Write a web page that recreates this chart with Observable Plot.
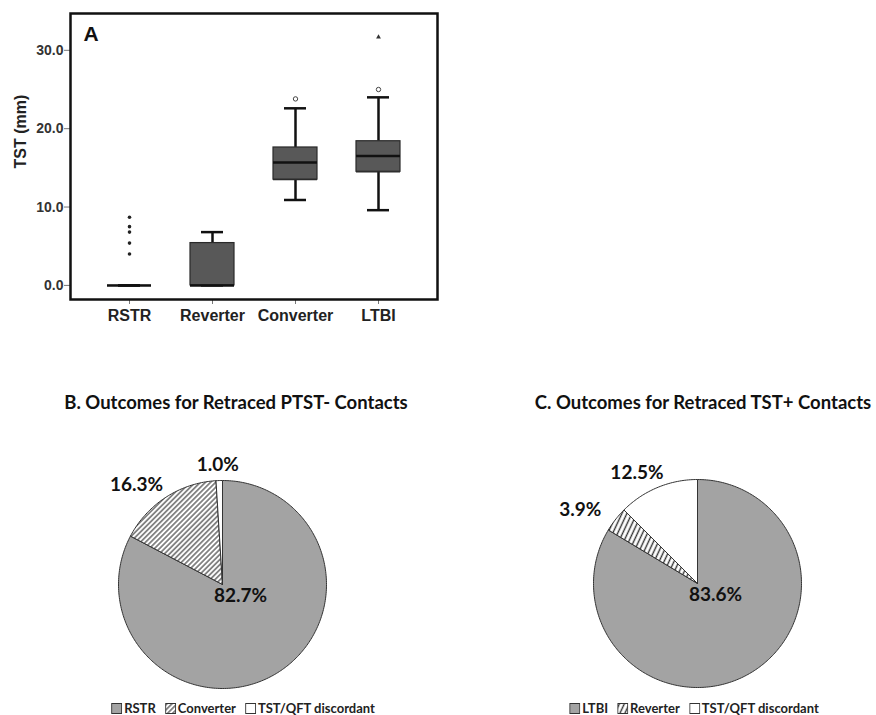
<!DOCTYPE html>
<html><head><meta charset="utf-8">
<script src="https://cdn.jsdelivr.net/npm/d3@7"></script>
<script src="https://cdn.jsdelivr.net/npm/@observablehq/plot@0.6"></script>
<style>
body{margin:0;background:#fff;}
#page{position:relative;width:876px;height:715px;overflow:hidden;font-family:Lato,"Open Sans",sans-serif;}
.abs{position:absolute;}
.title{font-weight:700;font-size:18.5px;color:#111;white-space:nowrap;transform:translate(-50%,-50%);}
.legend{font-size:13px;font-weight:700;color:#222;display:flex;align-items:center;white-space:nowrap;transform:translate(-50%,-50%);}
.legend .item{display:inline-flex;align-items:center;margin-right:9px;}
.legend .item:last-child{margin-right:0;}
.legend svg{margin-right:2px;}
</style></head>
<body><div id="page"></div>
<script>
// ---------- Panel A data (box plot summaries, TST mm) ----------
const boxCats = ["RSTR", "Reverter", "Converter", "LTBI"];
const q1 = [0, 0, 13.5, 14.5];
const median = [0, 0, 15.7, 16.5];
const q3 = [0, 5.4, 17.6, 18.4];
const whiskLo = [0, 0, 10.9, 9.6];
const whiskHi = [0, 6.8, 22.6, 24.0];
const outlierCat = ["RSTR", "RSTR", "RSTR", "RSTR", "RSTR", "Converter", "LTBI", "LTBI"];
const outlierVal = [8.7, 7.5, 6.8, 5.4, 4.0, 23.8, 25.0, 31.7];
const outlierKind = ["dot", "dot", "dot", "dot", "dot", "circle", "circle", "star"];
const yTicks = [0, 10, 20, 30];

// ---------- Panel B / C data (percent shares) ----------
const titleB = "B. Outcomes for Retraced PTST- Contacts";
const catsB = ["RSTR", "Converter", "TST/QFT discordant"];
const sharesB = [82.7, 16.3, 1.0];
const titleC = "C. Outcomes for Retraced TST+ Contacts";
const catsC = ["LTBI", "Reverter", "TST/QFT discordant"];
const sharesC = [83.6, 3.9, 12.5];

const page = document.getElementById("page");

// ---------- Panel A ----------
const boxTable = boxCats.map((c, i) => ({cat: c, q1: q1[i], med: median[i], q3: q3[i], lo: whiskLo[i], hi: whiskHi[i]}));
const outTable = outlierCat.map((c, i) => ({cat: c, v: outlierVal[i], kind: outlierKind[i]}));

const boxPlot = Plot.plot({
  width: 460, height: 340,
  marginLeft: 70, marginTop: 13, marginRight: 23, marginBottom: 41,
  style: {fontFamily: "'Liberation Sans', Arial, sans-serif", fontWeight: "bold", fontSize: "14px", color: "#222", background: "transparent"},
  x: {domain: boxCats, paddingInner: 0.47, paddingOuter: 0.44},
  y: {domain: [-1.8, 34.7]},
  marks: [
    Plot.ruleX(boxTable, {x: "cat", y1: "lo", y2: "q1", stroke: "#111", strokeWidth: 2.5}),
    Plot.ruleX(boxTable, {x: "cat", y1: "q3", y2: "hi", stroke: "#111", strokeWidth: 2.5}),
    Plot.tickY(boxTable, {x: "cat", y: "lo", stroke: "#111", strokeWidth: 2.5, insetLeft: 11, insetRight: 11}),
    Plot.tickY(boxTable, {x: "cat", y: "hi", stroke: "#111", strokeWidth: 2.5, insetLeft: 11, insetRight: 11}),
    Plot.barY(boxTable, {x: "cat", y1: "q1", y2: "q3", fill: "#585858", stroke: "#2a2a2a", strokeWidth: 1.2}),
    Plot.tickY(boxTable, {x: "cat", y: "q1", stroke: "#2a2a2a", strokeWidth: 1.2}),
    Plot.tickY(boxTable, {x: "cat", y: "med", stroke: "#111", strokeWidth: 2.5}),
    Plot.dot(outTable.filter(d => d.kind === "dot"), {x: "cat", y: "v", r: 1.8, fill: "#222", stroke: "none"}),
    Plot.dot(outTable.filter(d => d.kind === "circle"), {x: "cat", y: "v", r: 2.2, fill: "white", stroke: "#444", strokeWidth: 1}),
    Plot.dot(outTable.filter(d => d.kind === "star"), {x: "cat", y: "v", r: 1.8, symbol: "triangle", fill: "#333", stroke: "none"}),
    Plot.axisY({ticks: yTicks, tickFormat: d3.format(".1f"), tickSize: 6, tickPadding: 1, fontSize: 14, fontWeight: "bold", fill: "#333", stroke: "#777", label: null}),
    Plot.axisX({tickSize: 5, tickPadding: 5, fontSize: 16, fontWeight: "bold", fill: "#222", stroke: "#777", label: null}),
    Plot.text(["TST (mm)"], {frameAnchor: "left", rotate: -90, dx: -50, dy: 12, fontSize: 16, fontWeight: "bold", fill: "#222"}),
    Plot.text(["A"], {frameAnchor: "top-left", dx: 13, dy: 13, lineAnchor: "top", textAnchor: "start", fontSize: 21, fontWeight: "bold", fill: "#111"}),
    Plot.frame({stroke: "#111", strokeWidth: 2.5})
  ]
});
boxPlot.classList.add("abs");
boxPlot.style.left = "0px"; boxPlot.style.top = "0px";
page.appendChild(boxPlot);

// ---------- Pies ----------
function pieGeometry(cats, shares) {
  const total = d3.sum(shares);
  let acc = 0;
  const pts = [], labels = [];
  cats.forEach((c, i) => {
    const a0 = acc / total * 2 * Math.PI;
    acc += shares[i];
    const a1 = acc / total * 2 * Math.PI;
    const n = Math.max(2, Math.ceil((a1 - a0) / (Math.PI / 180)));
    pts.push({cat: c, x: 0, y: 0});
    for (let k = 0; k <= n; k++) {
      const a = a0 + (a1 - a0) * k / n;
      pts.push({cat: c, x: Math.sin(a), y: Math.cos(a)});
    }
    pts.push({cat: c, x: 0, y: 0});
    labels.push({cat: c, share: shares[i], mid: (a0 + a1) / 2});
  });
  return {pts, labels};
}

function addPattern(svg, id, angle, spacing, width) {
  const defs = d3.select(svg).insert("defs", ":first-child");
  const p = defs.append("pattern").attr("id", id).attr("patternUnits", "userSpaceOnUse")
    .attr("width", spacing).attr("height", spacing).attr("patternTransform", `rotate(${angle})`);
  p.append("rect").attr("width", spacing).attr("height", spacing).attr("fill", "white");
  p.append("line").attr("x1", spacing / 2).attr("y1", 0).attr("x2", spacing / 2).attr("y2", spacing)
    .attr("stroke", "#333").attr("stroke-width", width);
}

function drawPie(cats, shares, fills, patId, angle, spacing, pw, cx, cy, title, titleX, legendX) {
  const R = 104, W = 300, H = 300;
  const {pts, labels} = pieGeometry(cats, shares);
  const fmt = d => d3.format(".1f")(d.share) + "%";
  const maxShare = d3.max(shares);
  const inner = labels.filter(d => d.share === maxShare);
  const outer = labels.filter(d => d.share !== maxShare).map(d => {
    const w = fmt(d).length * 9.6 / R, h = 18 / R;
    const s = Math.sin(d.mid), c = Math.cos(d.mid);
    return {...d, lx: s * 1.06 + s * w, ly: c * 1.06 + c * h / 2};
  });
  const svg = Plot.plot({
    width: W, height: H, margin: 0,
    style: {fontFamily: "Lato, 'Open Sans', sans-serif", background: "transparent"},
    x: {domain: [-W / 2 / R, W / 2 / R], axis: null},
    y: {domain: [-H / 2 / R, H / 2 / R], axis: null},
    color: {domain: cats, range: fills},
    marks: [
      Plot.line(pts, {x: "x", y: "y", z: "cat", fill: "cat", stroke: "#333", strokeWidth: 1, curve: "linear"}),
      Plot.text(outer, {x: "lx", y: "ly", text: fmt, fontSize: 19, fontWeight: "bold", fill: "#111"}),
      Plot.text(inner, {x: () => 0, y: () => 0, text: fmt, dx: 18, dy: 11, fontSize: 19, fontWeight: "bold", fill: "#111"})
    ]
  });
  addPattern(svg, patId, angle, spacing, pw);
  svg.classList.add("abs");
  svg.style.left = (cx - W / 2) + "px"; svg.style.top = (cy - H / 2) + "px";
  page.appendChild(svg);

  const t = document.createElement("div");
  t.className = "abs title"; t.textContent = title;
  t.style.left = titleX + "px"; t.style.top = "402px";
  page.appendChild(t);

  const lg = document.createElement("div");
  lg.className = "abs legend";
  lg.style.left = legendX + "px"; lg.style.top = "708px";
  cats.forEach((c, i) => {
    const it = document.createElement("span"); it.className = "item";
    it.innerHTML = `<svg width="11" height="11"><rect x="0.5" y="0.5" width="10" height="10" fill="${fills[i]}" stroke="#333" stroke-width="1"/></svg><span>${c}</span>`;
    lg.appendChild(it);
  });
  page.appendChild(lg);
}

drawPie(catsB, sharesB, ["#a3a3a3", "url(#hatchB)", "white"], "hatchB", 45, 3.6, 1.1, 222, 584, titleB, 236, 243);
drawPie(catsC, sharesC, ["#a3a3a3", "url(#hatchC)", "white"], "hatchC", 25, 4.5, 1.4, 697, 583, titleC, 703, 694);
</script>
</body></html>
